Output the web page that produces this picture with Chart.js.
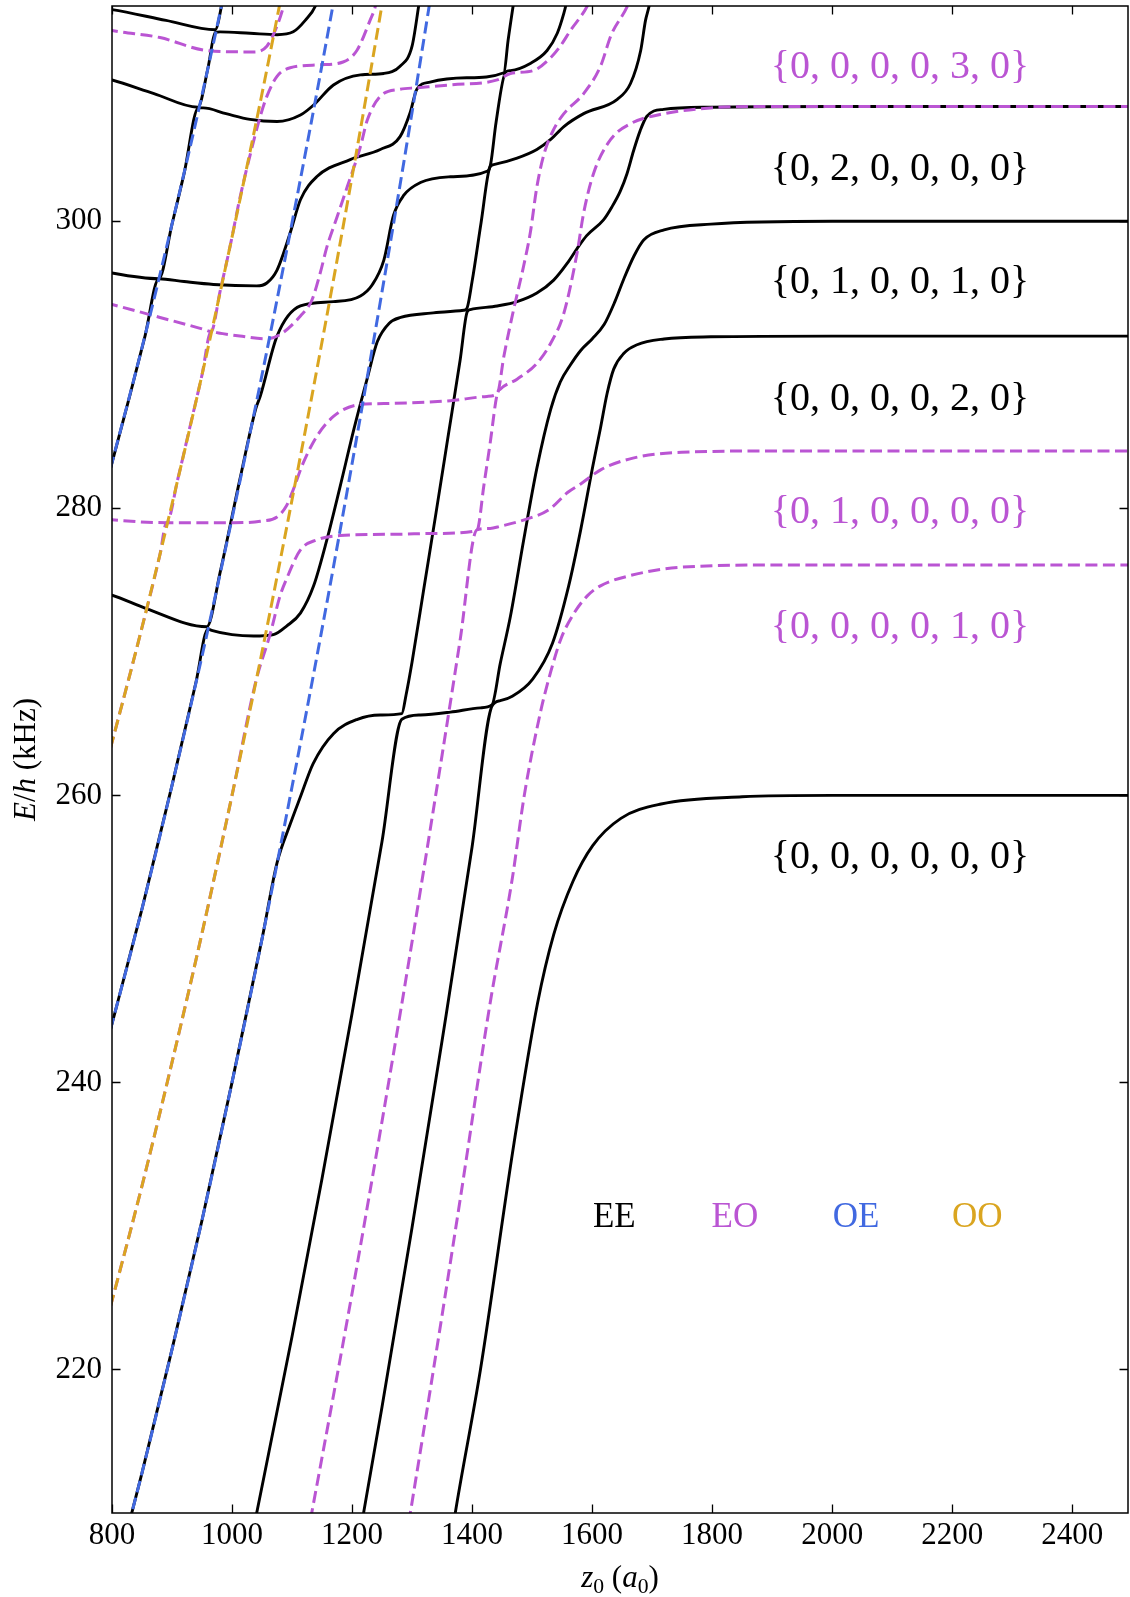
<!DOCTYPE html>
<html>
<head>
<meta charset="utf-8">
<script src="https://cdn.jsdelivr.net/npm/chart.js@4.4.0/dist/chart.umd.min.js"></script>
<style>
  html, body { margin: 0; padding: 0; background: #fff; }
  canvas { display: block; }
</style>
</head>
<body>
<canvas id="levels" width="1130" height="1597"></canvas>
<script>
// axis ticks
const xTicks = [800, 1000, 1200, 1400, 1600, 1800, 2000, 2200, 2400];
const yTicks = [220, 240, 260, 280, 300];

// EE adiabats, [z0, E/h] pairs, lowest first
const ee1 = [[1361,207.0],[1372,210.0],[1414,220.0],[1470,235.8],[1509,245.5],[1536,250.3],[1568,254.0],[1601,256.5],[1648,258.4],[1715,259.4],[1850,259.9],[2000,260.0],[2500,260.0]];
const ee2 = [[1205,206.6],[1250,217.4],[1300,229.9],[1350,242.9],[1400,256.4],[1433,266.2],[1447,266.6],[1467,266.9],[1501,268.1],[1534,270.6],[1561,274.6],[1581,278.5],[1601,282.9],[1614,285.6],[1625,288.0],[1636,289.7],[1653,290.8],[1675,291.4],[1720,291.8],[1798,291.95],[2000,292.0],[2500,292.0]];
const ee3 = [[1030,207.7],[1100,222.3],[1150,233.3],[1200,244.8],[1250,256.8],[1283,265.3],[1314,265.6],[1364,265.8],[1414,266.1],[1433,266.3],[1447,269.2],[1464,272.5],[1486,277.8],[1508,282.8],[1531,286.9],[1547,288.8],[1564,290.0],[1581,291.0],[1600,291.8],[1620,292.8],[1638,294.4],[1653,296.0],[1670,297.6],[1686,298.7],[1720,299.4],[1798,299.8],[2000,300.0],[2500,300.0]];
const ee4 = [[820,207.9],[850,212.8],[900,221.4],[950,230.4],[1000,240.0],[1050,250.0],[1075,255.3],[1097,258.0],[1114,259.9],[1135,262.2],[1169,264.3],[1209,265.3],[1247,265.6],[1283,265.7],[1290,267.0],[1300,269.3],[1320,274.5],[1340,279.7],[1360,285.0],[1380,290.3],[1392,293.7],[1397,293.85],[1442,294.1],[1475,294.4],[1508,295.0],[1536,295.9],[1559,297.1],[1575,298.1],[1591,299.0],[1619,300.1],[1633,301.0],[1647,302.1],[1658,303.3],[1669,304.9],[1680,306.3],[1691,307.3],[1719,307.8],[1797,307.95],[2000,308.0],[2500,308.0]];
const ee5 = [[790,242.5],[850,252.1],[900,260.7],[940,267.9],[960,271.6],[966,271.5],[1000,271.2],[1036,271.1],[1069,271.2],[1091,271.8],[1114,272.7],[1136,274.6],[1158,277.8],[1180,281.5],[1203,285.5],[1225,289.0],[1242,291.6],[1262,292.9],[1281,293.3],[1331,293.6],[1386,293.8],[1391,293.9],[1400,295.8],[1415,299.9],[1430,303.8],[1436,303.95],[1475,304.4],[1508,305.0],[1531,305.7],[1553,306.6],[1586,307.5],[1642,308.5],[1664,309.6],[1681,311.9],[1689,314.0],[1695,315.0],[1700,316.2]];
const ee6 = [[790,274.05],[800,273.95],[858,273.0],[958,271.75],[980,275.5],[1013,282.0],[1040,287.0],[1047,287.8],[1075,292.0],[1114,294.1],[1169,294.4],[1214,294.8],[1234,295.6],[1253,297.3],[1269,300.4],[1286,301.8],[1314,302.7],[1364,303.1],[1426,303.5],[1431,304.0],[1440,306.9],[1456,310.4],[1464,310.5],[1497,311.0],[1525,311.9],[1542,313.1],[1553,314.5],[1556,315.0],[1562,316.5]];
const ee7 = [[790,281.6],[830,287.9],[855,292.0],[878,296.0],[920,295.8],[969,295.6],[1041,295.5],[1058,295.7],[1075,296.6],[1097,299.2],[1114,301.5],[1141,303.1],[1197,304.3],[1247,305.0],[1280,305.9],[1297,307.6],[1308,309.2],[1330,309.7],[1391,310.0],[1453,310.35],[1460,312.6],[1476,317.1]];
const ee8 = [[790,296.5],[800,296.4],[878,296.0],[900,299.8],[920,303.3],[944,307.9],[952,307.9],[990,307.5],[1030,307.1],[1075,306.95],[1114,307.4],[1136,308.1],[1169,309.5],[1214,310.2],[1253,310.3],[1280,310.8],[1300,312.2],[1311,315.0],[1316,316.4]];
const ee9 = [[790,309.95],[800,309.85],[870,308.9],[943,307.95],[960,310.7],[972,313.15],[980,313.2],[1030,313.1],[1075,313.0],[1102,313.2],[1122,314.0],[1139,315.0],[1145,315.8]];
const ee10 = [[790,314.8],[800,314.75],[890,314.0],[972,313.35],[985,315.5]];

// EO adiabats
const eo1 = [[1285,206.9],[1330,218.5],[1380,231.8],[1430,245.5],[1467,254.2],[1487,260.0],[1514,265.8],[1531,268.6],[1548,270.9],[1570,272.7],[1592,273.9],[1614,274.6],[1662,275.3],[1749,275.9],[1916,276.05],[2500,276.05]];
const eo2 = [[1120,207.1],[1200,225.3],[1250,237.3],[1300,249.8],[1350,262.8],[1380,270.8],[1408,278.5],[1430,278.6],[1447,278.75],[1487,279.2],[1528,279.9],[1559,281.1],[1581,281.7],[1615,282.7],[1668,283.5],[1749,283.9],[1916,284.0],[2500,284.0]];
const eo3 = [[790,223.2],[850,232.8],[900,241.4],[950,250.4],[1000,260.0],[1040,268.0],[1064,271.3],[1080,273.9],[1091,275.1],[1114,277.1],[1141,277.8],[1180,278.1],[1280,278.2],[1336,278.25],[1408,278.45],[1420,281.7],[1430,284.5],[1442,288.0],[1447,288.3],[1475,289.0],[1508,290.1],[1531,291.5],[1553,293.6],[1575,297.8],[1586,300.6],[1603,303.4],[1631,305.7],[1664,306.8],[1720,307.5],[1797,307.9],[1864,308.0],[2500,308.0]];
const eo4 = [[790,262.1],[850,271.7],[880,276.8],[891,279.0],[950,279.0],[1002,279.0],[1047,279.1],[1075,279.4],[1091,280.2],[1102,281.3],[1119,283.2],[1141,285.0],[1169,286.4],[1208,287.2],[1253,287.3],[1364,287.5],[1425,287.8],[1442,288.0],[1453,290.6],[1469,293.8],[1486,296.9],[1497,299.2],[1508,302.4],[1520,304.7],[1536,306.4],[1553,307.5],[1586,308.9],[1614,310.8],[1632,313.0],[1659,315.0],[1670,316.2]];
const eo5 = [[790,279.25],[800,279.2],[891,279.0],[910,282.1],[930,285.7],[950,289.3],[965,292.3],[980,292.2],[1013,292.0],[1058,291.8],[1080,292.1],[1114,293.4],[1133,294.5],[1147,296.4],[1158,298.2],[1175,300.3],[1192,302.4],[1214,305.2],[1225,307.0],[1247,308.7],[1280,309.2],[1308,309.3],[1364,309.5],[1442,309.85],[1464,310.3],[1502,310.5],[1531,311.4],[1547,312.2],[1564,313.3],[1592,315.0],[1600,315.8]];
const eo6 = [[790,294.3],[800,294.2],[880,293.3],[958,292.4],[965,292.3],[980,295.1],[997,298.3],[1013,301.6],[1030,304.6],[1047,307.3],[1058,308.7],[1075,310.1],[1097,310.7],[1147,310.9],[1185,311.1],[1208,311.9],[1230,314.0],[1239,315.0],[1245,316.3]];
const eo7 = [[790,313.4],[800,313.3],[880,312.8],[958,311.9],[1036,311.8],[1058,312.2],[1075,313.6],[1086,315.0],[1092,316.0]];

// OE lines
const oeA = [[790,281.6],[850,291.2],[900,299.8],[950,308.8],[1000,318.4]];
const oeB = [[790,242.5],[850,252.1],[900,260.7],[950,269.7],[1000,279.3],[1050,289.3],[1100,299.9],[1150,310.9],[1200,322.4]];
const oeC = [[820,207.9],[850,212.8],[900,221.4],[950,230.4],[1000,240.0],[1050,250.0],[1100,260.6],[1150,271.6],[1200,283.1],[1250,295.1],[1300,307.6],[1350,320.6]];

// OO lines
const ooD = [[790,262.1],[850,271.7],[900,280.3],[950,289.3],[1000,298.9],[1050,308.9],[1100,319.5]];
const ooE = [[790,223.2],[850,232.8],[900,241.4],[950,250.4],[1000,260.0],[1050,270.0],[1100,280.6],[1150,291.6],[1200,303.1],[1250,315.1],[1300,327.6]];

// state labels on the right, top to bottom
const stateLabels = ['{0, 0, 0, 0, 3, 0}', '{0, 2, 0, 0, 0, 0}', '{0, 1, 0, 0, 1, 0}', '{0, 0, 0, 0, 2, 0}',
                     '{0, 1, 0, 0, 0, 0}', '{0, 0, 0, 0, 1, 0}', '{0, 0, 0, 0, 0, 0}'];
const stateSymmetry = ['EO', 'EE', 'EE', 'EE', 'EO', 'EO', 'EE'];
const symmetryNames = ['EE', 'EO', 'OE', 'OO'];

const colors = { EE: '#000000', EO: '#BA55D3', OE: '#4169E1', OO: '#DAA520' };
const serif = "'Liberation Serif', 'DejaVu Serif', serif";

// label anchors in data units
const labelZ = 2113;
const labelE = [309.96, 302.88, 294.98, 286.85, 278.96, 270.94, 254.92];
const legendZ = [1637, 1838, 2040, 2242];
const legendE = 229.95;

function curve(points, sym) {
  const dashed = sym !== 'EE';
  return {
    data: points.map(p => ({ x: p[0], y: p[1] })),
    borderColor: colors[sym],
    borderWidth: dashed ? 3.0 : 2.9,
    borderDash: dashed ? [12, 5.5] : [],
    pointRadius: 0,
    pointHoverRadius: 0,
    fill: false,
    cubicInterpolationMode: 'monotone',
    order: { EE: 4, EO: 3, OE: 2, OO: 1 }[sym]
  };
}

const datasets = [
  ...[ee1, ee2, ee3, ee4, ee5, ee6, ee7, ee8, ee9, ee10].map(c => curve(c, 'EE')),
  ...[eo1, eo2, eo3, eo4, eo5, eo6, eo7].map(c => curve(c, 'EO')),
  ...[oeA, oeB, oeC].map(c => curve(c, 'OE')),
  ...[ooD, ooE].map(c => curve(c, 'OO'))
];

// draws a run of text pieces, centred on x
function drawPieces(ctx, pieces, x, y, size) {
  const fontOf = p => (p.it ? 'italic ' : '') + (p.sub ? size * 0.7 : size) + 'px ' + serif;
  const widths = pieces.map(p => { ctx.font = fontOf(p); return ctx.measureText(p.t).width; });
  let cx = x - widths.reduce((a, b) => a + b, 0) / 2;
  pieces.forEach((p, i) => {
    ctx.font = fontOf(p);
    ctx.fillText(p.t, cx, y + (p.sub ? size * 0.2 : 0));
    cx += widths[i];
  });
}

const framePlugin = {
  id: 'frame',
  afterDatasetsDraw(chart) {
    const { ctx, chartArea: a, scales: { x, y } } = chart;
    ctx.save();
    ctx.strokeStyle = '#000';
    ctx.lineWidth = 1.5;
    ctx.strokeRect(a.left, a.top, a.right - a.left, a.bottom - a.top);
    ctx.lineWidth = 1.3;
    ctx.beginPath();
    const len = 8.5;
    xTicks.forEach(v => {
      const px = Math.round(x.getPixelForValue(v)) + 0.5;
      ctx.moveTo(px, a.bottom); ctx.lineTo(px, a.bottom - len);
      ctx.moveTo(px, a.top); ctx.lineTo(px, a.top + len);
    });
    yTicks.forEach(v => {
      const py = Math.round(y.getPixelForValue(v)) + 0.5;
      ctx.moveTo(a.left, py); ctx.lineTo(a.left + len, py);
      ctx.moveTo(a.right, py); ctx.lineTo(a.right - len, py);
    });
    ctx.stroke();
    ctx.restore();
  },
  afterDraw(chart) {
    const { ctx, chartArea: a, scales: { x, y } } = chart;
    ctx.save();
    ctx.textAlign = 'left';
    ctx.textBaseline = 'alphabetic';

    // state labels
    stateLabels.forEach((s, i) => {
      ctx.fillStyle = colors[stateSymmetry[i]];
      drawPieces(ctx, [{ t: s }], x.getPixelForValue(labelZ), y.getPixelForValue(labelE[i]), 40);
    });

    // symmetry key
    symmetryNames.forEach((s, i) => {
      ctx.fillStyle = colors[s];
      drawPieces(ctx, [{ t: s }], x.getPixelForValue(legendZ[i]), y.getPixelForValue(legendE), 35);
    });

    // axis titles
    ctx.fillStyle = '#000';
    drawPieces(ctx, [{ t: 'z', it: true }, { t: '0', sub: true }, { t: ' (' }, { t: 'a', it: true }, { t: '0', sub: true }, { t: ')' }],
      (a.left + a.right) / 2, 1587, 31);
    ctx.translate(35, (a.top + a.bottom) / 2);
    ctx.rotate(-Math.PI / 2);
    drawPieces(ctx, [{ t: 'E', it: true }, { t: '/' }, { t: 'h', it: true }, { t: ' (kHz)' }], 0, 0, 31);
    ctx.restore();
  }
};

new Chart(document.getElementById('levels'), {
  type: 'line',
  data: { datasets },
  options: {
    responsive: false,
    animation: false,
    events: [],
    layout: { padding: { top: 6, right: 2, bottom: 0, left: 0 } },
    elements: { line: { capBezierPoints: false, tension: 0 } },
    plugins: { legend: { display: false }, tooltip: { enabled: false } },
    scales: {
      x: {
        type: 'linear',
        min: 800,
        max: 2493,
        grid: { display: false },
        border: { display: false },
        ticks: {
          color: '#000',
          font: { family: serif, size: 31 },
          padding: -4,
          maxRotation: 0,
          autoSkip: false,
          callback: v => String(v)
        },
        afterBuildTicks: s => { s.ticks = xTicks.map(v => ({ value: v })); },
        afterFit: s => { s.height = 84; s.paddingLeft = 0; s.paddingRight = 0; }
      },
      y: {
        type: 'linear',
        min: 210,
        max: 315,
        grid: { display: false },
        border: { display: false },
        ticks: {
          color: '#000',
          font: { family: serif, size: 31 },
          padding: 2,
          callback: v => String(v)
        },
        afterBuildTicks: s => { s.ticks = yTicks.map(v => ({ value: v })); },
        afterFit: s => { s.width = 112; s.paddingTop = 0; s.paddingBottom = 0; }
      }
    }
  },
  plugins: [framePlugin]
});
</script>
</body>
</html>
